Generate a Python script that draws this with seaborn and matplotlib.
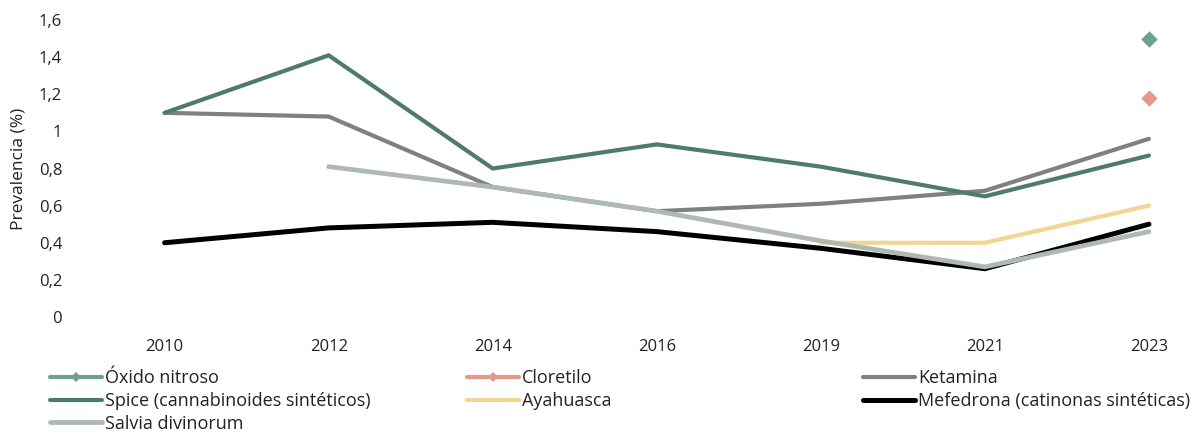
import matplotlib
matplotlib.use("Agg")
import matplotlib.pyplot as plt
from matplotlib.lines import Line2D
from matplotlib.ticker import FuncFormatter
import numpy as np
import pandas as pd
import seaborn as sns

# Survey years (categorical axis)
years = ["2010", "2012", "2014", "2016", "2019", "2021", "2023"]

# Prevalence (%) per substance; None = not measured that year
ketamina = [1.10, 1.08, 0.70, 0.57, 0.61, 0.68, 0.96]
mefedrona = [0.40, 0.48, 0.51, 0.46, 0.37, 0.26, 0.50]
ayahuasca = [None, None, None, None, 0.40, 0.40, 0.60]
spice = [1.10, 1.41, 0.80, 0.93, 0.81, 0.65, 0.87]
salvia = [None, 0.81, 0.70, 0.57, 0.41, 0.27, 0.46]
oxido_nitroso = [None, None, None, None, None, None, 1.50]
cloretilo = [None, None, None, None, None, None, 1.18]

names = {
    "ketamina": "Ketamina",
    "mefedrona": "Mefedrona (catinonas sintéticas)",
    "ayahuasca": "Ayahuasca",
    "spice": "Spice (cannabinoides sintéticos)",
    "salvia": "Salvia divinorum",
    "oxido": "Óxido nitroso",
    "cloretilo": "Cloretilo",
}
colors = {
    "ketamina": "#808080",
    "mefedrona": "#000000",
    "ayahuasca": "#F2D493",
    "spice": "#4F7B6F",
    "salvia": "#ADB9B1",
    "oxido": "#6F9F93",
    "cloretilo": "#E39A8C",
}
widths = {"ketamina": 3.0, "mefedrona": 3.6, "ayahuasca": 3.0,
          "spice": 3.0, "salvia": 3.4}

line_series = {
    "ketamina": ketamina,
    "mefedrona": mefedrona,
    "ayahuasca": ayahuasca,
    "spice": spice,
    "salvia": salvia,
}
point_series = {"oxido": oxido_nitroso, "cloretilo": cloretilo}

pos = np.arange(len(years))

sns.set_theme(style="white")
plt.rcParams["font.family"] = ["Open Sans", "DejaVu Sans"]

fig = plt.figure(figsize=(12, 4.36), dpi=100)
ax = fig.add_axes([0.068, 0.273, 0.925, 0.681])

for key, vals in line_series.items():
    df = pd.DataFrame({"x": pos, "y": pd.array(vals, dtype="Float64")}).dropna()
    df["y"] = df["y"].astype(float)
    sns.lineplot(data=df, x="x", y="y", ax=ax, color=colors[key],
                 linewidth=widths[key], solid_capstyle="round",
                 solid_joinstyle="miter", legend=False)

for key, vals in point_series.items():
    df = pd.DataFrame({"x": pos, "y": pd.array(vals, dtype="Float64")}).dropna()
    df["y"] = df["y"].astype(float)
    sns.scatterplot(data=df, x="x", y="y", ax=ax, color=colors[key],
                    marker="D", s=70, linewidth=0, legend=False, zorder=5)

ax.set_xlim(-0.506, 6.26)
ax.set_ylim(0, 1.6)
ax.set_xticks(pos)
ax.set_xticklabels(years)
ax.set_yticks(np.arange(0, 1.61, 0.2))
ax.yaxis.set_major_formatter(FuncFormatter(lambda v, p: f"{round(v, 1):g}".replace(".", ",")))
ax.tick_params(axis="both", length=0, labelsize=12, colors="#222222")
ax.tick_params(axis="y", pad=14)
ax.tick_params(axis="x", pad=16)
ax.set_xlabel("")
ax.set_ylabel("Prevalencia (%)", fontsize=12.5, color="#222222")
ax.yaxis.set_label_coords(-0.050, 0.5)
sns.despine(ax=ax, left=True, bottom=True)
ax.grid(False)


def handle(key):
    if key in point_series:
        return Line2D([], [], color=colors[key], linewidth=3, marker="D",
                      markersize=5, markeredgewidth=0)
    return Line2D([], [], color=colors[key], linewidth=widths[key])


columns = [
    (["oxido", "spice", "salvia"], 0.0417),
    (["cloretilo", "ayahuasca"], 0.389),
    (["ketamina", "mefedrona"], 0.719),
]
for keys, x0 in columns:
    fig.legend([handle(k) for k in keys], [names[k] for k in keys],
               loc="upper left", bbox_to_anchor=(x0, 0.153),
               frameon=False, fontsize=13, borderpad=0, borderaxespad=0,
               handlelength=2.9, handletextpad=0.17, labelspacing=0.26,
               numpoints=1, labelcolor="#222222")

fig.savefig("out.png", dpi=100)
